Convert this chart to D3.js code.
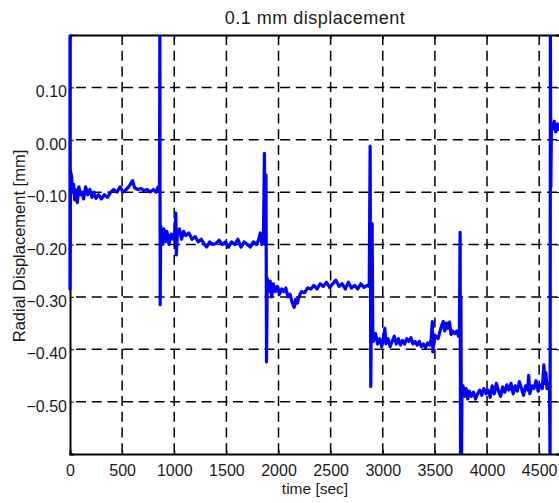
<!DOCTYPE html>
<html>
<head>
  <meta charset="utf-8">
  <script src="https://d3js.org/d3.v7.min.js"></script>
  <style>
    body { margin: 0; background: #fff; }
    text { font-family: "Liberation Sans", Arial, sans-serif; fill: #1a1a1a; }
    .grid line { stroke: #000; stroke-width: 1.5; stroke-dasharray: 10, 5.7; }
    .axis path, .axis line { stroke: #000; }
    .axis path { stroke-width: 2; }
    .axis text { font-size: 16px; }
  </style>
</head>
<body>
<script>
// time [sec] and radial displacement [mm]
var times = [
  0, 0, 5, 15, 25, 35, 45, 55, 70, 85, 100, 115, 130, 150, 170, 190, 210, 230, 250, 275,
  300, 330, 360, 390, 420, 450, 480, 510, 540, 570, 600, 620, 650, 680, 710, 740, 770, 800, 825, 845,
  858, 862, 865, 870, 885, 900, 915, 930, 950, 970, 990, 1005, 1015, 1020, 1030, 1050, 1070, 1090, 1110, 1140,
  1170, 1200, 1230, 1260, 1290, 1310, 1340, 1370, 1400, 1430, 1460, 1490, 1520, 1550, 1580, 1610, 1640, 1670, 1700, 1730,
  1760, 1790, 1810, 1825, 1840, 1855, 1865, 1870, 1880, 1885, 1892, 1905, 1920, 1935, 1950, 1970, 1990, 2010, 2030, 2050,
  2070, 2090, 2110, 2130, 2150, 2165, 2180, 2200, 2220, 2250, 2280, 2310, 2340, 2370, 2400, 2430, 2460, 2490, 2520, 2550,
  2580, 2610, 2640, 2670, 2700, 2730, 2760, 2790, 2820, 2850, 2870, 2879, 2885, 2898, 2905, 2910, 2930, 2950, 2970, 2990,
  3010, 3020, 3030, 3050, 3070, 3090, 3110, 3130, 3150, 3170, 3190, 3210, 3230, 3250, 3270, 3290, 3310, 3330, 3350, 3370,
  3390, 3410, 3430, 3450, 3465, 3475, 3480, 3495, 3510, 3530, 3550, 3565, 3580, 3595, 3610, 3625, 3640, 3655, 3670, 3690,
  3710, 3725, 3735, 3742, 3746, 3750, 3755, 3760, 3770, 3785, 3800, 3815, 3830, 3850, 3870, 3890, 3910, 3930, 3950, 3970,
  3990, 4010, 4030, 4050, 4070, 4090, 4110, 4130, 4150, 4170, 4190, 4210, 4230, 4250, 4270, 4290, 4310, 4330, 4350, 4370,
  4390, 4400, 4410, 4430, 4450, 4470, 4490, 4510, 4530, 4545, 4555, 4565, 4575, 4590, 4600, 4605, 4608, 4612, 4618, 4630,
  4645, 4660, 4675, 4690, 4700
];
var displacement = [
  0.22, -0.285, -0.06, -0.07, -0.1, -0.085, -0.115, -0.095, -0.12, -0.09, -0.105, -0.1, -0.113, -0.09, -0.105, -0.095, -0.11, -0.1, -0.112, -0.105,
  -0.113, -0.105, -0.11, -0.1, -0.095, -0.1, -0.09, -0.1, -0.095, -0.088, -0.078, -0.092, -0.095, -0.093, -0.097, -0.095, -0.1, -0.095, -0.1, -0.09,
  -0.1, 0.22, -0.315, -0.165, -0.2, -0.17, -0.195, -0.175, -0.2, -0.18, -0.19, -0.175, -0.14, -0.22, -0.18, -0.17, -0.19, -0.175, -0.183, -0.178,
  -0.19, -0.185, -0.195, -0.19, -0.2, -0.205, -0.195, -0.2, -0.198, -0.192, -0.2, -0.195, -0.205, -0.195, -0.2, -0.19, -0.205, -0.195, -0.2, -0.205,
  -0.195, -0.2, -0.19, -0.178, -0.2, -0.19, -0.026, -0.2, -0.067, -0.424, -0.265, -0.29, -0.27, -0.3, -0.275, -0.29, -0.28, -0.295, -0.285, -0.29,
  -0.283, -0.3, -0.295, -0.31, -0.32, -0.305, -0.312, -0.298, -0.29, -0.292, -0.283, -0.285, -0.278, -0.285, -0.275, -0.28, -0.272, -0.282, -0.275, -0.268,
  -0.28, -0.275, -0.285, -0.272, -0.283, -0.278, -0.285, -0.275, -0.282, -0.278, -0.28, -0.012, -0.471, -0.16, -0.385, -0.385, -0.37, -0.39, -0.38, -0.395,
  -0.375, -0.36, -0.39, -0.38, -0.395, -0.385, -0.375, -0.39, -0.38, -0.392, -0.383, -0.39, -0.38, -0.385, -0.378, -0.39, -0.385, -0.392, -0.385, -0.395,
  -0.39, -0.397, -0.388, -0.392, -0.38, -0.347, -0.405, -0.38, -0.375, -0.38, -0.365, -0.355, -0.347, -0.365, -0.35, -0.36, -0.348, -0.372, -0.365, -0.37,
  -0.365, -0.375, -0.362, -0.177, -0.62, -0.3, -0.62, -0.48, -0.47, -0.49, -0.475, -0.495, -0.48, -0.49, -0.482, -0.495, -0.485, -0.478, -0.488, -0.475,
  -0.485, -0.478, -0.492, -0.47, -0.485, -0.465, -0.48, -0.49, -0.472, -0.482, -0.468, -0.478, -0.465, -0.485, -0.47, -0.48, -0.462, -0.475, -0.488, -0.47,
  -0.478, -0.45, -0.485, -0.47, -0.475, -0.46, -0.48, -0.468, -0.475, -0.43, -0.465, -0.445, -0.475, -0.465, -0.48, -0.62, 0.22, -0.09, 0.03, 0.02,
  0.035, 0.015, 0.03, 0.02, 0.025
];
var xTicks = [0, 500, 1000, 1500, 2000, 2500, 3000, 3500, 4000, 4500];
var yTicks = [-0.5, -0.4, -0.3, -0.2, -0.1, 0.0, 0.1];

var width = 559, height = 503;
var plotLeft = 70, plotRight = 560, plotTop = 35, plotBottom = 454;

var svg = d3.select("body").append("svg")
  .attr("width", width)
  .attr("height", height);

svg.append("rect").attr("width", width).attr("height", height).attr("fill", "#fff");

var x = d3.scaleLinear().domain([0, 4700]).range([plotLeft, plotRight]);
var y = d3.scaleLinear().domain([-0.6, 0.2]).range([plotBottom, plotTop]);

// dashed grid
var grid = svg.append("g").attr("class", "grid");
grid.selectAll(".gx").data(xTicks.slice(1)).enter().append("line")
  .attr("x1", function(d) { return x(d); })
  .attr("x2", function(d) { return x(d); })
  .attr("y1", plotTop).attr("y2", plotBottom);
grid.selectAll(".gy").data(yTicks).enter().append("line")
  .attr("y1", function(d) { return y(d); })
  .attr("y2", function(d) { return y(d); })
  .attr("x1", plotLeft + 6).attr("x2", plotRight);

// axes, ticks pointing inward
svg.append("g").attr("class", "axis")
  .attr("transform", "translate(0," + plotBottom + ")")
  .call(d3.axisBottom(x).tickValues(xTicks).tickSize(-4).tickPadding(11)
    .tickFormat(d3.format("d")))
  .select(".domain").attr("stroke-width", 2.6);

svg.append("g").attr("class", "axis")
  .attr("transform", "translate(0," + plotTop + ")")
  .call(d3.axisTop(x).tickValues(xTicks).tickSize(-4).tickFormat(""));

var yAxis = svg.append("g").attr("class", "axis")
  .attr("transform", "translate(" + plotLeft + ",0)")
  .call(d3.axisLeft(y).tickValues(yTicks).tickSize(-4).tickPadding(3)
    .tickFormat(d3.format(".2f")));
yAxis.selectAll("text").attr("dy", "0.6em");

svg.append("g").attr("class", "axis")
  .attr("transform", "translate(" + plotRight + ",0)")
  .call(d3.axisRight(y).tickValues(yTicks).tickSize(-4).tickFormat(""));

// the measured curve
svg.append("clipPath").attr("id", "plotclip")
  .append("rect")
  .attr("x", plotLeft - 2).attr("y", plotTop)
  .attr("width", plotRight - plotLeft + 4).attr("height", plotBottom - plotTop);

var pts = times.map(function(t, i) { return [t, displacement[i]]; });

svg.append("path")
  .datum(pts)
  .attr("clip-path", "url(#plotclip)")
  .attr("fill", "none")
  .attr("stroke", "#0000ff")
  .attr("stroke-width", 3.2)
  .attr("stroke-linejoin", "round")
  .attr("d", d3.line()
    .x(function(d) { return x(d[0]); })
    .y(function(d) { return y(d[1]); }));

// labels
svg.append("text")
  .attr("x", 315).attr("y", 24)
  .attr("text-anchor", "middle")
  .style("font-size", "18px")
  .style("letter-spacing", "0.5px")
  .text("0.1 mm displacement");

svg.append("text")
  .attr("x", 315).attr("y", 494)
  .attr("text-anchor", "middle")
  .style("font-size", "15.5px")
  .text("time [sec]");

svg.append("text")
  .attr("transform", "translate(25,246) rotate(-90)")
  .attr("text-anchor", "middle")
  .style("font-size", "16.5px")
  .text("Radial Displacement [mm]");
</script>
</body>
</html>
